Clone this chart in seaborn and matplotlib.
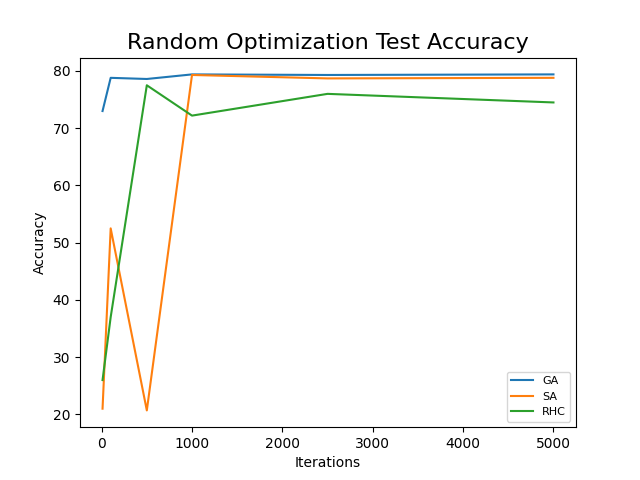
import matplotlib
matplotlib.use("Agg")
import matplotlib.pyplot as plt
import seaborn as sns
import pandas as pd

iterations = [10, 100, 500, 1000, 2500, 5000]
ga_acc = [73.0, 78.8, 78.6, 79.4, 79.3, 79.4]
sa_acc = [21.0, 52.5, 20.7, 79.3, 78.7, 78.8]
rhc_acc = [26.0, 37.0, 77.5, 72.2, 76.0, 74.5]

df = pd.DataFrame({
    "Iterations": iterations * 3,
    "Accuracy": ga_acc + sa_acc + rhc_acc,
    "Algo": ["GA"] * 6 + ["SA"] * 6 + ["RHC"] * 6,
})

fig, ax = plt.subplots(figsize=(6.4, 4.8), dpi=100)
sns.lineplot(data=df, x="Iterations", y="Accuracy", hue="Algo",
             palette=["#1f77b4", "#ff7f0e", "#2ca02c"], ax=ax)
ax.set_title("Random Optimization Test Accuracy", fontsize=16)
ax.set_xlabel("Iterations")
ax.set_ylabel("Accuracy")
ax.legend(loc="lower right", fontsize=8)
fig.savefig("out.png")
